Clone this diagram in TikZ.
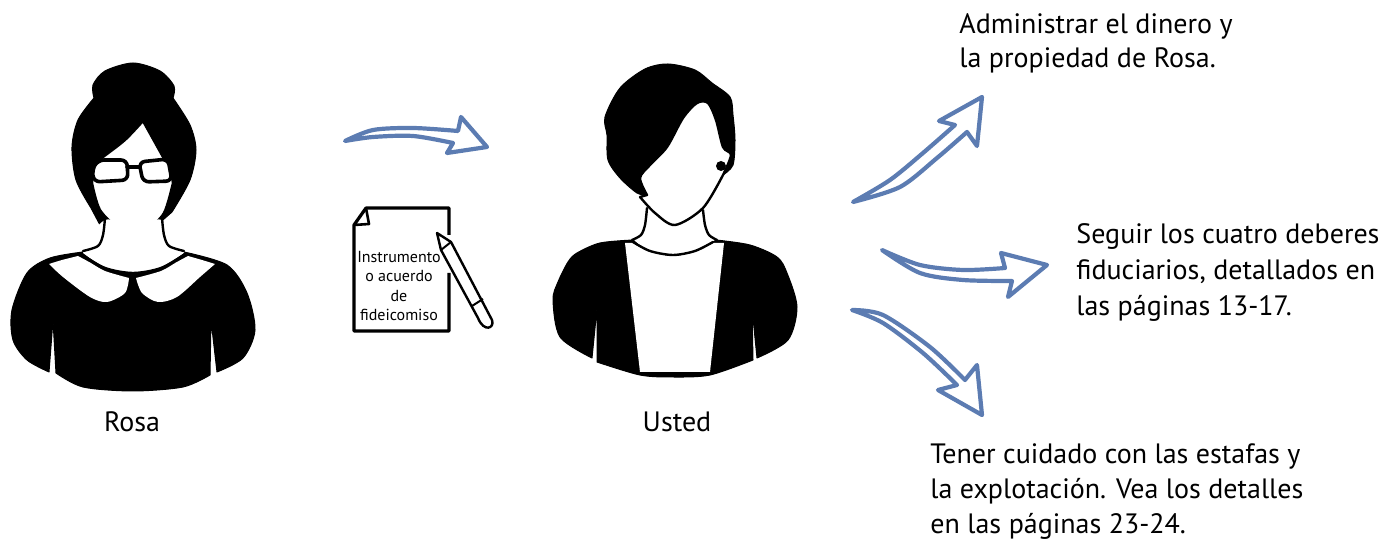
\documentclass[tikz,border=0pt]{standalone}
\usepackage{fontspec}
\setmainfont{PT Sans}
\begin{document}
\begin{tikzpicture}[x=0.5pt,y=-0.5pt]
\tikzstyle{every node}=[font=\fontsize{14}{18}\selectfont,inner sep=0pt]
\tikzstyle{doctext}=[font=\fontsize{8}{9.6}\selectfont,align=center]
\tikzstyle{blob}=[fill=black,draw=black,line width=0.5pt,line join=round]
\tikzstyle{thinline}=[draw=black,line width=1.2pt,line join=round,line cap=round]
\tikzstyle{handarrow}=[draw=arrowblue,line width=2.1pt,line join=round,fill=white]
\definecolor{arrowblue}{RGB}{92,124,178}
\useasboundingbox (0,0) rectangle (1388,539);

% Rosa
\path[blob] plot[smooth] coordinates {(94,98) (93,85) (105,71) (133,63) (160,71) (174,86) (173,98)}
	-- plot[smooth] coordinates {(173,98) (190,125) (196,150) (190,180) (172,212)}
	-- (140,240) -- (100,225)
	-- plot[smooth] coordinates {(91,208) (76,180) (72,147) (78,120) (94,98)} -- cycle;
\path[thinline,fill=white] plot[smooth] coordinates {(143,121) (125,140) (103,157)} -- (93,175) -- (92,183)
	-- plot[smooth] coordinates {(92,183) (100,210) (120,230) (133,237) (147,230) (164,213) (173,183)}
	-- (170,165) -- (163,157) -- cycle;
\path[blob] plot[smooth] coordinates {(83,252) (120,255) (133,256) (146,255) (184,252)}
	-- plot[smooth] coordinates {(184,252) (227,265) (247,293) (255,330) (243,358) (217,372)}
	-- (211,320) -- (210,375)
	-- plot[smooth] coordinates {(210,375) (183,387) (133,391) (83,387) (56,373)}
	-- (53,320) -- (49,372)
	-- plot[smooth] coordinates {(49,372) (27,360) (13,340) (12,310) (27,273) (50,258) (83,252)} -- cycle;
\path[fill=white] plot[smooth] coordinates {(83,245) (105,220) (133,225) (162,220) (184,245)}
	-- plot[smooth] coordinates {(184,253) (160,268) (133,273) (106,268) (83,253)} -- cycle;
\path[thinline] plot[smooth] coordinates {(105,218) (103,235) (98,246) (83,251)};
\path[thinline] plot[smooth] coordinates {(162,218) (164,235) (169,246) (184,251)};
\path[thinline] plot[smooth] coordinates {(81,254) (105,268) (133,273) (161,268) (185,254)};
\path[fill=white] plot[smooth] coordinates {(49,264) (62,260) (78,256)} -- plot[smooth] coordinates {(78,256) (90,262.5) (105,271) (129,278)}
	-- plot[smooth] coordinates {(129,278) (125,293) (107,302) (90,297) (63,277) (49,264)} -- cycle;
\path[fill=white] plot[smooth] coordinates {(215,264) (202,260) (188,256)} -- plot[smooth] coordinates {(188,256) (176,262.5) (161,271) (136,278)}
	-- plot[smooth] coordinates {(136,278) (142,293) (158,302) (177,297) (200,277) (215,264)} -- cycle;
\path[thinline,line width=1.8pt,fill=white,rounded corners=3pt] (98,160) -- (127,160) -- (128,180) -- (94,182) -- (92,170) -- cycle;
\path[thinline,line width=1.8pt,fill=white,rounded corners=3pt] (139,162) -- (168,159) -- (172,181) -- (143,182) -- cycle;
\path[thinline,line width=1.8pt] (127,167) -- (139,167);

% Usted
\path[blob] plot[smooth] coordinates {(647,195) (637,193) (620,178) (608,160) (607,135) (605,117) (620,88) (645,69) (668,64) (695,70) (712,83) (730,97) (733,115) (735,140) (733,165) (723,175)}
	-- (700,200) -- (650,200) -- cycle;
\path[thinline,fill=white] plot[smooth] coordinates {(640,197) (655,213) (675,225) (703,208) (723,175)}
	-- plot[smooth] coordinates {(723,175) (731,155) (723,147) (716,120) (708,103) (697,103) (683,118) (667,147) (650,165) (640,178) (647,195)} -- cycle;
\fill[black] (721,166) circle (5);
\path[blob] plot[smooth] coordinates {(633,240) (600,243) (577,253) (568,262) (558,282) (553,300) (560,337) (592,358)}
	-- (597,308) -- (597,362)
	-- plot[smooth] coordinates {(597,362) (640,375) (673,377) (710,375) (753,360)}
	-- (752,308) -- (757,358)
	-- plot[smooth] coordinates {(757,358) (788,340) (797,307) (787,273) (777,257) (750,245) (716,240)}
	-- plot[smooth] coordinates {(716,240) (695,253) (673,256) (650,253) (633,240)} -- cycle;
\path[fill=white] (625,243) -- (640,372) -- (710,372) -- (724,243) -- (713,243)
	-- plot[smooth] coordinates {(713,243) (695,252) (673,256) (650,252) (633,243)} -- cycle;
\path[thinline] plot[smooth] coordinates {(633,242) (650,251) (673,255) (695,251) (713,242)};
\path[thinline] plot[smooth] coordinates {(647,208) (645,225) (641,235) (632,240)};
\path[thinline] plot[smooth] coordinates {(703,210) (705,225) (709,235) (717,240)};

% Documento
\path[draw=black,line width=1.6pt,line join=round] (449,235) -- (449,208) -- (366,208) -- (354,225) -- (354,331) -- (449,331) -- (449,273);
\path[draw=black,line width=1.3pt,line join=round] (366,208) -- (369,224) -- (354,225);
\path[draw=black,line width=1.2pt,line join=round,fill=white] (437,233) -- (451,242) -- (492,320) .. controls (495,328) and (484,333) .. (478,318) -- (441,250) -- cycle;
\path[draw=black,line width=1pt] (472,306) -- (483,299);
\path[draw=black,line width=1pt] (441,250) -- (451,242);
\node[doctext] (docu) at (399,286) {Instrumento\\o acuerdo\\de\\fideicomiso};

% Flechas
\coordinate (rosaout) at (345,141);
\coordinate (ustedin) at (487,147);
\coordinate (dineroout) at (853,202);
\coordinate (dineroin) at (982,97);
\coordinate (deberesout) at (882,250);
\coordinate (deberesin) at (1047,265);
\coordinate (estafasout) at (852,310);
\coordinate (estafasin) at (982,415);
\path[handarrow] plot[smooth] coordinates {(rosaout) (373,130) (413,128) (458,131)} -- (461,117) -- (ustedin) -- (447,153) -- (453,143)
	-- plot[smooth] coordinates {(453,143) (413,136) (373,137) (rosaout)} -- cycle;
\path[handarrow] plot[smooth] coordinates {(dineroout) (890,180) (923,153) (955,125)} -- (939,121) -- (dineroin) -- (977,146) -- (967,132)
	-- plot[smooth] coordinates {(967,132) (937,158) (900,187) (dineroout)} -- cycle;
\path[handarrow] plot[smooth] coordinates {(deberesout) (920,265) (963,270) (1005,268)} -- (1001,253) -- (deberesin) -- (1008,297) -- (1012,281)
	-- plot[smooth] coordinates {(1012,281) (963,280) (920,273) (deberesout)} -- cycle;
\path[handarrow] plot[smooth] coordinates {(estafasout) (883,315) (930,347) (965,380)} -- (977,365) -- (estafasin) -- (938,390) -- (957,385)
	-- plot[smooth] coordinates {(957,385) (923,353) (883,323) (estafasout)} -- cycle;

% Textos
\node (rosa) at (132,422) {Rosa};
\node (usted) at (677,422) {Usted};
\node[anchor=north west,align=left] (dinero) at (959,13) {Administrar el dinero y\\[-0.8pt]la propiedad de Rosa.};
\node[anchor=north west,align=left] (deberes) at (1076,223) {Seguir los cuatro deberes\\fiduciarios, detallados en\\las páginas 13-17.};
\node[anchor=north west,align=left] (estafas) at (930,443) {Tener cuidado con las estafas y\\[-0.4pt]la explotación. Vea los detalles\\[-0.4pt]en las páginas 23-24.};
\end{tikzpicture}
\end{document}
